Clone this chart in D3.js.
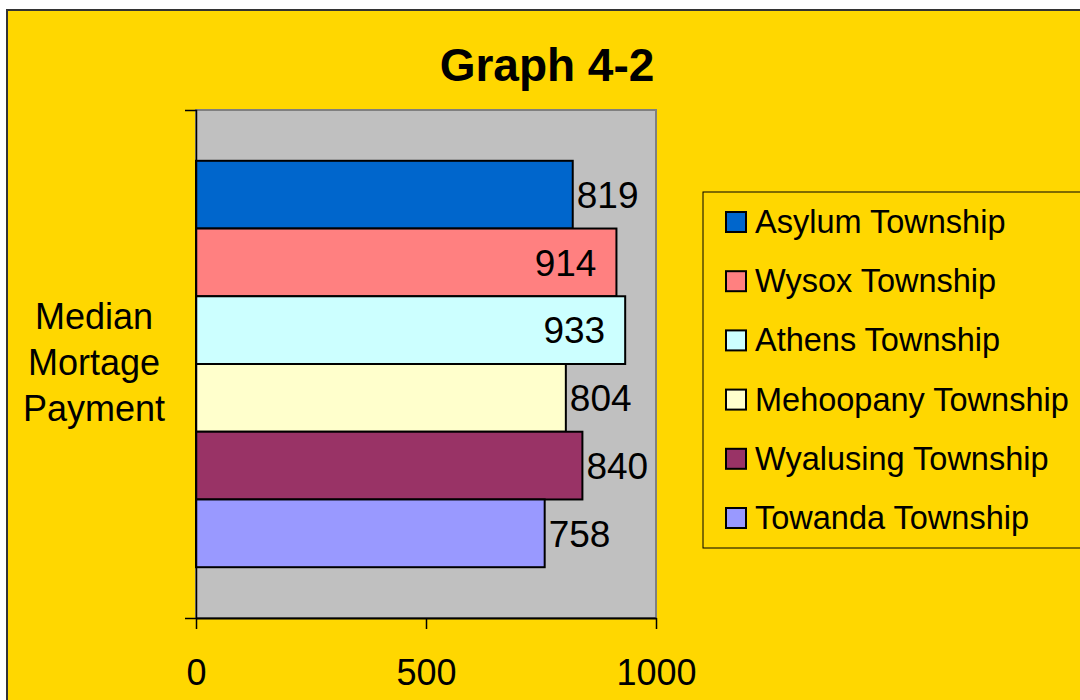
<!DOCTYPE html>
<html>
<head>
<meta charset="utf-8">
<script src="https://cdn.jsdelivr.net/npm/d3@7"></script>
<style>
  body { margin: 0; background: #fff; }
  svg { display: block; font-family: "Liberation Sans", Arial, sans-serif; }
</style>
</head>
<body>
<div id="chart"></div>
<script>
// data
var townships = ["Asylum Township", "Wysox Township", "Athens Township",
                 "Mehoopany Township", "Wyalusing Township", "Towanda Township"];
var payments = [819, 914, 933, 804, 840, 758];
var colors = ["#0066CC", "#FF8080", "#CCFFFF", "#FFFFCC", "#993366", "#9999FF"];
var xTicks = [0, 500, 1000];
var category = ["Median Mortage Payment"];

var W = 1080, H = 700;
var margin = { top: 110, left: 196, right: 424, bottom: 82 };
var plotW = W - margin.left - margin.right;   // 460
var plotH = H - margin.top - margin.bottom;   // 508

var svg = d3.select("#chart").append("svg")
    .attr("width", W)
    .attr("height", H);

// chart area frame
svg.append("rect")
    .attr("x", 7).attr("y", 10)
    .attr("width", W + 20).attr("height", H + 20)
    .attr("fill", "#FFD700")
    .attr("stroke", "#333")
    .attr("stroke-width", 2);

svg.append("text")
    .attr("x", 547).attr("y", 81)
    .attr("text-anchor", "middle")
    .attr("font-size", 46)
    .attr("font-weight", "bold")
    .text("Graph 4-2");

var g = svg.append("g")
    .attr("transform", "translate(" + margin.left + "," + margin.top + ")");

var x = d3.scaleLinear().domain([0, 1000]).range([0, plotW]);
var y = d3.scaleBand().domain(townships).range([0, plotH])
    .paddingInner(0).paddingOuter(0.75);
var cat = d3.scaleBand().domain(category).range([0, plotH]);

// plot area
g.append("rect")
    .attr("width", plotW).attr("height", plotH)
    .attr("fill", "#C0C0C0")
    .attr("stroke", "#808080")
    .attr("stroke-width", 2);

g.selectAll(".bar")
    .data(townships)
  .enter().append("rect")
    .attr("class", "bar")
    .attr("x", x(0))
    .attr("y", function(d) { return y(d); })
    .attr("width", function(d, i) { return x(payments[i]) - x(0); })
    .attr("height", y.bandwidth())
    .attr("fill", function(d, i) { return colors[i]; })
    .attr("stroke", "#000")
    .attr("stroke-width", 2);

// value labels: outside end, pulled inside when they would leave the plot
g.selectAll(".val")
    .data(townships)
  .enter().append("text")
    .attr("class", "val")
    .attr("font-size", 37)
    .attr("dy", "0.36em")
    .attr("y", function(d) { return y(d) + y.bandwidth() / 2; })
    .text(function(d, i) { return payments[i]; })
    .each(function(d, i) {
        var t = d3.select(this);
        var end = x(payments[i]);
        var w = this.getComputedTextLength();
        if (end + 4 + w > plotW) {
            t.attr("x", end - 20).attr("text-anchor", "end");
        } else {
            t.attr("x", end + 4).attr("text-anchor", "start");
        }
    });

// axes
var xAxis = g.append("g")
    .attr("transform", "translate(0," + plotH + ")")
    .call(d3.axisBottom(x).tickValues(xTicks).tickFormat(d3.format("d"))
        .tickSize(11).tickSizeOuter(0).tickPadding(30));
xAxis.select(".domain").attr("stroke", "#000").attr("stroke-width", 2);
xAxis.selectAll(".tick line").attr("stroke", "#000").attr("stroke-width", 1.5);
xAxis.selectAll(".tick text")
    .attr("font-size", 36)
    .attr("font-family", "Liberation Sans, Arial, sans-serif")
    .attr("fill", "#000");

var yAxis = g.append("g")
    .call(d3.axisLeft(cat).tickSizeInner(0).tickSizeOuter(11).tickFormat(""));
yAxis.select(".domain").attr("stroke", "#000").attr("stroke-width", 1.5);
yAxis.selectAll(".tick").remove();

// axis title, one word per line
var titleLines = category[0].split(" ");
svg.append("text")
    .attr("x", 94).attr("y", 329)
    .attr("text-anchor", "middle")
    .attr("font-size", 36)
    .selectAll("tspan")
    .data(titleLines)
  .enter().append("tspan")
    .attr("x", 94)
    .attr("dy", function(d, i) { return i === 0 ? 0 : 46; })
    .text(function(d) { return d; });

// legend
var legend = svg.append("g").attr("transform", "translate(703,192)");
legend.append("rect")
    .attr("width", 400).attr("height", 356)
    .attr("fill", "#FFD700")
    .attr("stroke", "#000")
    .attr("stroke-width", 1);

var ly = d3.scalePoint().domain(townships).range([30, 326]);
var item = legend.selectAll(".item")
    .data(townships)
  .enter().append("g")
    .attr("class", "item")
    .attr("transform", function(d) { return "translate(0," + ly(d) + ")"; });

item.append("rect")
    .attr("x", 23).attr("y", -10)
    .attr("width", 20).attr("height", 20)
    .attr("fill", function(d, i) { return colors[i]; })
    .attr("stroke", "#000")
    .attr("stroke-width", 2);

item.append("text")
    .attr("x", 52)
    .attr("dy", "0.34em")
    .attr("font-size", 32.5)
    .text(function(d) { return d; });
</script>
</body>
</html>
